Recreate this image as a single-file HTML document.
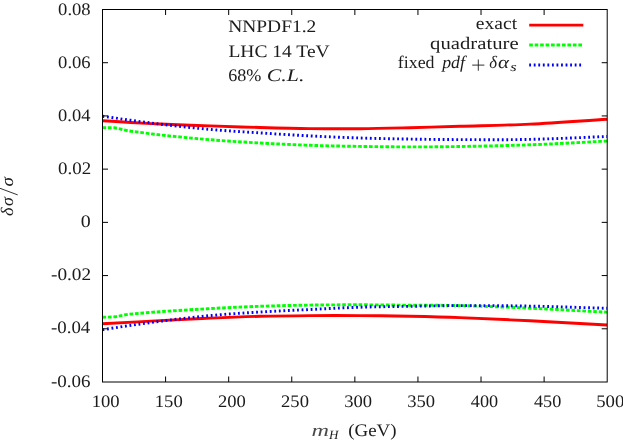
<!DOCTYPE html>
<html><head><meta charset="utf-8"><title>plot</title>
<style>html,body{margin:0;padding:0;background:#fff;overflow:hidden}svg{display:block;will-change:transform}text{font-family:"Liberation Serif",serif;fill:#1c1c1c;text-rendering:geometricPrecision}</style>
</head><body>
<svg width="623" height="440" viewBox="0 0 623 440">
<rect x="0" y="0" width="623" height="440" fill="#fff"/>
<path d="M165.59,382.00 V376.50 M165.59,9.50 V15.00 M228.68,382.00 V376.50 M228.68,9.50 V15.00 M291.76,382.00 V376.50 M291.76,9.50 V15.00 M354.85,382.00 V376.50 M354.85,9.50 V15.00 M417.94,382.00 V376.50 M417.94,9.50 V15.00 M481.03,382.00 V376.50 M481.03,9.50 V15.00 M544.11,382.00 V376.50 M544.11,9.50 V15.00 M102.50,62.71 H108.00 M607.20,62.71 H601.70 M102.50,115.93 H108.00 M607.20,115.93 H601.70 M102.50,169.14 H108.00 M607.20,169.14 H601.70 M102.50,222.36 H108.00 M607.20,222.36 H601.70 M102.50,275.57 H108.00 M607.20,275.57 H601.70 M102.50,328.79 H108.00 M607.20,328.79 H601.70" stroke="#000" stroke-width="1" fill="none"/>
<path d="M102.50,120.70 C112.00,121.30 121.50,121.95 131.00,122.50 C140.67,123.05 150.33,123.58 160.00,124.00 C176.67,124.72 193.33,125.32 210.00,125.90 C226.67,126.48 243.33,127.05 260.00,127.50 C276.67,127.95 293.33,128.40 310.00,128.60 C326.67,128.80 343.33,128.85 360.00,128.70 C376.67,128.55 393.33,128.10 410.00,127.70 C426.67,127.30 443.33,126.80 460.00,126.30 C483.33,125.60 506.67,125.23 530.00,124.10 C555.67,122.86 581.33,120.83 607.00,119.20" stroke="#ff0000" stroke-width="2.90" fill="none" stroke-linejoin="round"/>
<path d="M102.50,323.80 C121.67,322.73 140.83,321.62 160.00,320.60 C176.67,319.72 193.33,318.82 210.00,318.10 C226.67,317.38 243.33,316.72 260.00,316.30 C276.67,315.88 293.33,315.72 310.00,315.60 C326.67,315.48 343.33,315.48 360.00,315.60 C376.67,315.72 393.33,315.97 410.00,316.30 C426.67,316.63 443.33,316.98 460.00,317.60 C483.33,318.48 506.67,319.63 530.00,320.80 C555.67,322.09 581.33,323.60 607.00,325.00" stroke="#ff0000" stroke-width="2.90" fill="none" stroke-linejoin="round"/>
<path d="M529.2,25.1 H583.3" stroke="#ff0000" stroke-width="2.90" fill="none" stroke-linejoin="round"/>
<path d="M102.50,127.60 L115.00,127.80 L128.00,130.80 C138.67,132.17 149.33,133.74 160.00,134.90 C176.67,136.71 193.33,138.35 210.00,139.70 C226.67,141.05 243.33,142.07 260.00,143.00 C276.67,143.93 293.33,144.73 310.00,145.30 C326.67,145.87 343.33,146.13 360.00,146.40 C376.67,146.67 393.33,146.88 410.00,146.90 C426.67,146.92 443.33,146.79 460.00,146.50 C483.33,146.09 506.67,145.66 530.00,144.80 C555.67,143.86 581.33,142.33 607.00,141.10" stroke="#00ff00" stroke-width="2.90" fill="none" stroke-linejoin="round" stroke-dasharray="3.64 1.82"/>
<path d="M102.50,317.30 L115.00,316.80 L128.00,314.30 C138.67,313.43 149.33,312.44 160.00,311.70 C176.67,310.54 193.33,309.50 210.00,308.60 C226.67,307.70 243.33,306.88 260.00,306.30 C276.67,305.72 293.33,305.35 310.00,305.10 C326.67,304.85 343.33,304.78 360.00,304.80 C376.67,304.82 393.33,305.07 410.00,305.20 C426.67,305.33 443.33,305.18 460.00,305.60 C483.33,306.18 506.67,307.15 530.00,308.20 C555.67,309.35 581.33,310.87 607.00,312.20" stroke="#00ff00" stroke-width="2.90" fill="none" stroke-linejoin="round" stroke-dasharray="3.64 1.82"/>
<path d="M529.2,45.0 H583.3" stroke="#00ff00" stroke-width="2.90" fill="none" stroke-linejoin="round" stroke-dasharray="3.64 1.82"/>
<path d="M102.50,116.20 C112.00,117.57 121.50,118.99 131.00,120.30 C140.67,121.63 150.33,122.99 160.00,124.10 C176.67,126.02 193.33,127.93 210.00,129.40 C226.67,130.87 243.33,131.82 260.00,132.90 C276.67,133.98 293.33,135.05 310.00,135.90 C326.67,136.75 343.33,137.47 360.00,138.00 C376.67,138.53 393.33,138.83 410.00,139.10 C426.67,139.37 443.33,139.56 460.00,139.60 C483.33,139.66 506.67,139.89 530.00,139.40 C555.67,138.86 581.33,137.47 607.00,136.50" stroke="#0000ff" stroke-width="2.90" fill="none" stroke-linejoin="round" stroke-dasharray="1.82 2.73"/>
<path d="M102.50,329.70 C112.00,328.23 121.50,326.69 131.00,325.30 C140.67,323.89 150.33,322.49 160.00,321.30 C176.67,319.25 193.33,317.15 210.00,315.60 C226.67,314.05 243.33,313.02 260.00,312.00 C276.67,310.98 293.33,310.30 310.00,309.50 C326.67,308.70 343.33,307.73 360.00,307.20 C376.67,306.67 393.33,306.57 410.00,306.30 C426.67,306.03 443.33,305.63 460.00,305.60 C483.33,305.56 506.67,305.67 530.00,306.10 C555.67,306.57 581.33,307.57 607.00,308.30" stroke="#0000ff" stroke-width="2.90" fill="none" stroke-linejoin="round" stroke-dasharray="1.82 2.73"/>
<path d="M529.2,65.0 H583.3" stroke="#0000ff" stroke-width="2.90" fill="none" stroke-linejoin="round" stroke-dasharray="1.82 2.73"/>
<rect x="102.50" y="9.50" width="504.70" height="372.50" fill="none" stroke="#000" stroke-width="1"/>
<text transform="translate(58.11,14.80) scale(1.0576,1)" font-size="17.60">0.08</text>
<text transform="translate(58.11,67.50) scale(1.0576,1)" font-size="17.60">0.06</text>
<text transform="translate(58.11,120.80) scale(1.0487,1)" font-size="17.60">0.04</text>
<text transform="translate(58.09,174.00) scale(1.0759,1)" font-size="17.60">0.02</text>
<text transform="translate(80.75,226.90) scale(1.1333,1)" font-size="17.60">0</text>
<text transform="translate(50.98,280.10) scale(1.0943,1)" font-size="17.60">-0.02</text>
<text transform="translate(51.00,333.30) scale(1.0713,1)" font-size="17.60">-0.04</text>
<text transform="translate(50.99,386.60) scale(1.0789,1)" font-size="17.60">-0.06</text>
<text transform="translate(91.71,406.90) scale(1.0598,1)" font-size="17.60">100</text>
<text transform="translate(154.80,406.90) scale(1.0598,1)" font-size="17.60">150</text>
<text transform="translate(217.98,406.90) scale(1.0560,1)" font-size="17.60">200</text>
<text transform="translate(281.07,406.90) scale(1.0560,1)" font-size="17.60">250</text>
<text transform="translate(344.16,406.90) scale(1.0560,1)" font-size="17.60">300</text>
<text transform="translate(407.25,406.90) scale(1.0560,1)" font-size="17.60">350</text>
<text transform="translate(470.87,406.90) scale(1.0353,1)" font-size="17.60">400</text>
<text transform="translate(533.95,406.90) scale(1.0353,1)" font-size="17.60">450</text>
<text transform="translate(596.23,406.90) scale(1.0667,1)" font-size="17.60">500</text>
<text transform="translate(228.15,32.20) scale(1.1067,1)" font-size="17.60">NNPDF1.2</text>
<text transform="translate(228.45,56.60) scale(1.1083,1)" font-size="17.60">LHC 14 TeV</text>
<text transform="translate(228.23,80.60) scale(1.0290,1)" font-size="17.60">68%</text>
<text transform="translate(266.86,80.60) scale(1.2360,1)" font-size="17.60" font-style="italic">C.L.</text>
<text transform="translate(475.87,29.30) scale(1.1117,1)" font-size="17.60">exact</text>
<text transform="translate(430.12,48.70) scale(1.1757,1)" font-size="17.60">quadrature</text>
<text transform="translate(397.79,68.40) scale(1.0169,1)" font-size="17.60">fixed</text>
<text transform="translate(442.21,68.40) scale(1.0118,1)" font-size="17.60" font-style="italic">pdf</text>
<text transform="translate(489.32,68.40) scale(0.9500,1)" font-size="17.60" font-style="italic">δ</text>
<text transform="translate(497.91,68.40) scale(1.1889,1)" font-size="17.60" font-style="italic">α</text>
<text transform="translate(510.37,71.20) scale(1.3176,1)" font-size="12.60" font-style="italic">s</text>
<text transform="translate(311.47,435.60) scale(1.3778,1)" font-size="17.60" font-style="italic" fill-opacity="0.80">m</text>
<text transform="translate(328.90,438.90) scale(1.0359,1)" font-size="12.60" font-style="italic">H</text>
<text transform="translate(348.19,435.60) scale(1.0759,1)" font-size="17.60">(GeV)</text>
<text transform="translate(13.40,216.02) rotate(-90) scale(1.0375,1)" font-size="17.60" font-style="italic">δ</text>
<text transform="translate(13.40,206.01) rotate(-90) scale(1.0171,1)" font-size="17.60" font-style="italic">σ</text>
<text transform="translate(13.40,186.54) rotate(-90) scale(1.0857,1)" font-size="17.60" font-style="italic">σ</text>
<path d="M472.2,65.1 H484.4 M478.3,59.5 V70.7" stroke="#1c1c1c" stroke-width="0.9" fill="none"/>
<path d="M17.7,194.9 L-0.3,188.2" stroke="#1c1c1c" stroke-width="0.9" fill="none"/>
</svg>
</body></html>
